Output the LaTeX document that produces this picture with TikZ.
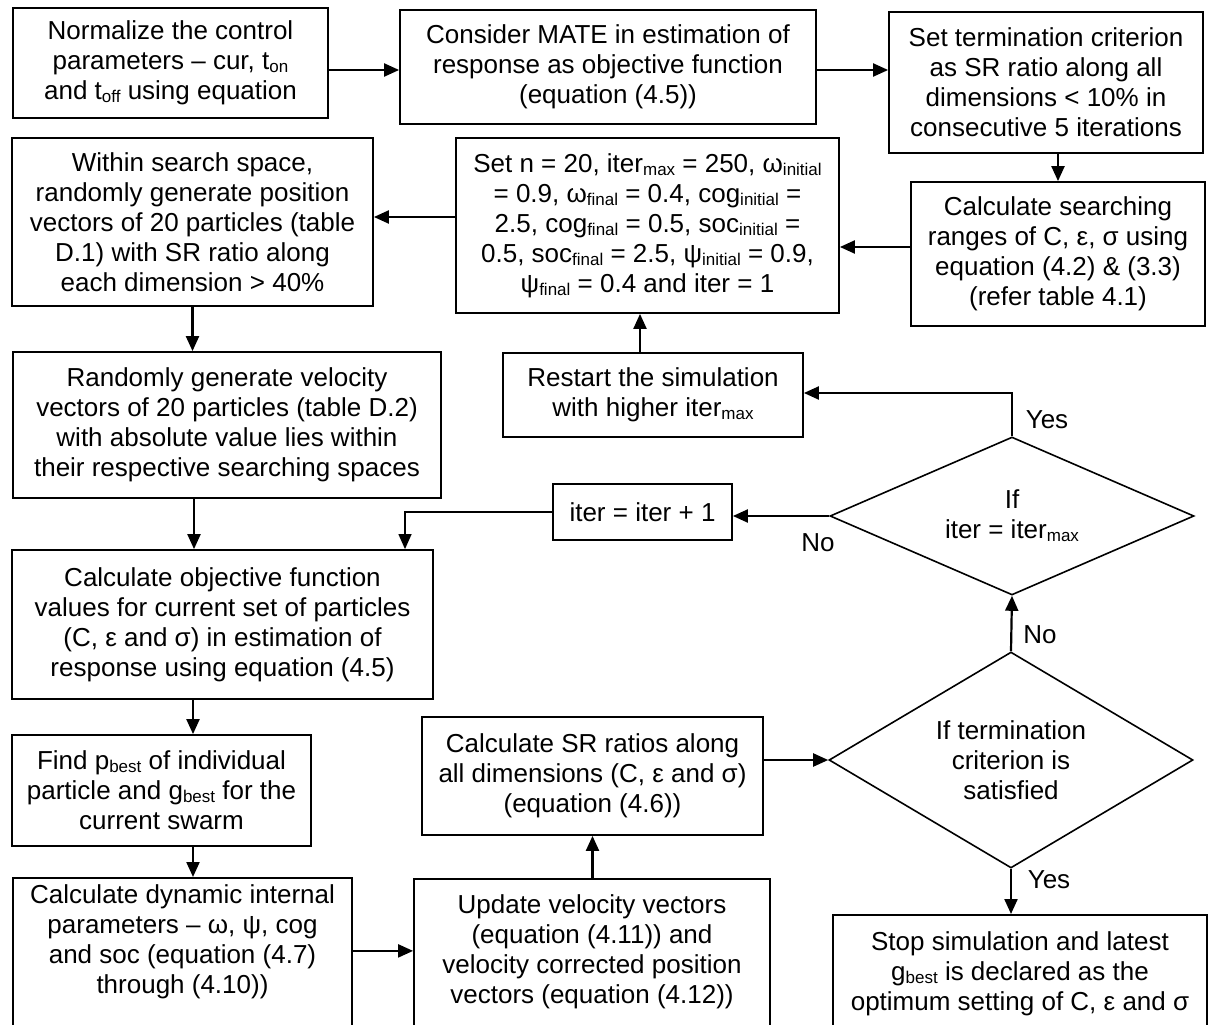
\documentclass[tikz,border=0pt]{standalone}
\usepackage{fontspec}
\setmainfont{Liberation Sans}
\usetikzlibrary{arrows.meta,shapes.geometric}
\newcommand{\sbx}[1]{\raisebox{-3pt}{\fontsize{17}{17}\selectfont #1}}
\begin{document}
\begin{tikzpicture}[x=1pt,y=-1pt,
  box/.style={draw, line width=1.8pt, align=center, inner sep=0pt, font=\fontsize{26}{30}\selectfont},
  dec/.style={draw, diamond, line width=1.6pt, inner sep=0pt},
  lbl/.style={font=\fontsize{26}{30}\selectfont, inner sep=0pt},
  arr/.style={line width=2.2pt, -{Triangle[length=15pt,width=13pt]}},
  thinarr/.style={line width=1.3pt, -{Triangle[length=15pt,width=13pt]}}]
\useasboundingbox (0,0) rectangle (1211,1025);
\clip (0,0) rectangle (1211,1025);

\node[box, minimum width=315pt, minimum height=110pt] (n1) at (170.5,63)
  {Normalize the control\\parameters – cur, t\sbx{on}\\and t\sbx{off} using equation};
\node[box, minimum width=416pt, minimum height=114pt] (n2) at (608,67)
  {Consider MATE in estimation of\\response as objective function\\(equation (4.5))};
\node[box, minimum width=314pt, minimum height=141pt] (n3) at (1046,82.5)
  {Set termination criterion\\as SR ratio along all\\dimensions < 10\% in\\consecutive 5 iterations};
\node[box, minimum width=294pt, minimum height=144pt] (n4) at (1058,254)
  {Calculate searching\\ranges of C, ε, σ using\\equation (4.2) \& (3.3)\\(refer table 4.1)};
\node[box, minimum width=383pt, minimum height=175pt] (n5) at (647.5,225.5)
  {Set n = 20, iter\sbx{max} = 250, ω\sbx{initial}\\= 0.9, ω\sbx{final} = 0.4, cog\sbx{initial} =\\2.5, cog\sbx{final} = 0.5, soc\sbx{initial} =\\0.5, soc\sbx{final} = 2.5, ψ\sbx{initial} = 0.9,\\ψ\sbx{final} = 0.4 and iter = 1};
\node[box, minimum width=361pt, minimum height=168pt] (n6) at (192.5,222)
  {Within search space,\\randomly generate position\\vectors of 20 particles (table\\D.1) with SR ratio along\\each dimension > 40\%};
\node[box, minimum width=428pt, minimum height=146pt] (n7) at (227,425)
  {Randomly generate velocity\\vectors of 20 particles (table D.2)\\with absolute value lies within\\their respective searching spaces};
\node[box, minimum width=300pt, minimum height=84pt] (rs) at (653,395)
  {Restart the simulation\\with higher iter\sbx{max}};
\node[box, minimum width=179pt, minimum height=56pt] (n9) at (642.5,512)
  {iter = iter + 1};
\node[box, minimum width=421pt, minimum height=149pt] (n8) at (222.5,624.5)
  {Calculate objective function\\values for current set of particles\\(C, ε and σ) in estimation of\\response using equation (4.5)};
\node[box, minimum width=299pt, minimum height=111pt] (find) at (161.5,790.5)
  {Find p\sbx{best} of individual\\particle and g\sbx{best} for the\\current swarm};
\node[box, minimum width=341pt, minimum height=118pt] (n10) at (592.5,776)
  {Calculate SR ratios along\\all dimensions (C, ε and σ)\\(equation (4.6))};

\node[box, anchor=north, minimum width=339pt, minimum height=165pt] (dyn) at (182.5,877)
  {\parbox[c][165pt][t]{330pt}{\centering\vspace*{5pt}\strut Calculate dynamic internal\\parameters – ω, ψ, cog\\and soc (equation (4.7)\\through (4.10))}};
\node[box, anchor=north, minimum width=356pt, minimum height=165pt] (n11) at (592,878)
  {\parbox[c][165pt][t]{350pt}{\centering\vspace*{14pt}\strut Update velocity vectors\\(equation (4.11)) and\\velocity corrected position\\vectors (equation (4.12))}};
\node[box, anchor=north, minimum width=374pt, minimum height=130pt] (stop) at (1020,914)
  {\parbox[c][130pt][t]{368pt}{\centering\vspace*{15pt}\strut Stop simulation and latest\\g\sbx{best} is declared as the\\optimum setting of C, ε and σ}};

\node[dec, minimum width=364pt, minimum height=158pt,
  label={[lbl, align=center]center:If\\iter = iter\sbx{max}}] (d1) at (1012,516) {};
\node[dec, minimum width=364pt, minimum height=216pt,
  label={[lbl, align=center]center:If termination\\criterion is\\satisfied}] (d2) at (1011,760) {};

\node[lbl] (y1) at (1047,420) {Yes};
\node[lbl] (no1) at (818,543) {No};
\node[lbl] (no2) at (1040,635) {No};
\node[lbl] (y2) at (1049,880) {Yes};

\coordinate (a1) at ([yshift=-7pt]n1.east);
\coordinate (a2) at ([yshift=-3pt]n2.east);
\coordinate (a4) at ([yshift=7pt]n4.west);
\coordinate (a5) at ([yshift=8.5pt]n5.west);
\coordinate (a7) at ([xshift=-33pt]n7.south);
\coordinate (a8) at ([xshift=-29.5pt]n8.south);
\coordinate (af) at ([xshift=31.5pt]find.south);
\coordinate (ad) at ([yshift=9.5pt]dyn.east);
\coordinate (ar) at ([xshift=-13pt]rs.north);
\coordinate (a9) at ([xshift=182.5pt]n8.north);

\draw[arr] (a1) -- (a1 -| n2.west);
\draw[arr] (a2) -- (a2 -| n3.west);
\draw[arr] (n4.north |- n3.south) -- (n4.north);
\draw[arr] (a4) -- (a4 -| n5.east);
\draw[arr] (a5) -- (a5 -| n6.east);
\draw[arr] (n6.south) -- (n6.south |- n7.north);
\draw[arr] (a7) -- (a7 |- n8.north);
\draw[arr] (a8) -- (a8 |- find.north);
\draw[arr] (af) -- (af |- dyn.north);
\draw[arr] (ad) -- (ad -| n11.west);
\draw[arr] (n10.south |- n11.north) -- (n10.south);
\draw[arr] (d2.west -| n10.east) -- (d2.west);
\draw[arr] (d2.north) -- (d1.south);
\draw[arr] (d2.south) -- (d2.south |- stop.north);
\draw[arr] (d1.west) -- (d1.west -| n9.east);
\draw[arr] (d1.north) |- ([yshift=2pt]rs.east);
\draw[arr] (ar) -- (ar |- n5.south);
\draw[thinarr] (n9.west) -| (a9);
\end{tikzpicture}
\end{document}
